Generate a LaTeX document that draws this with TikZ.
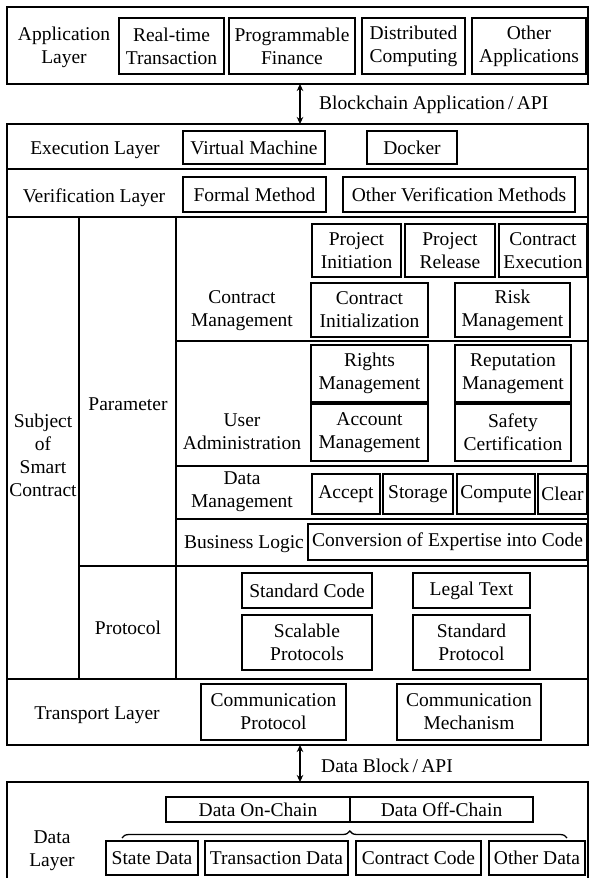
\documentclass[tikz,border=0pt]{standalone}
\usepackage{fontspec}
\setmainfont{Liberation Serif}
\newfontfamily\tnrfont{Liberation Serif}
\usetikzlibrary{arrows.meta,decorations.pathreplacing}
\tikzset{
  bx/.style={draw, line width=1.3pt, align=center, inner sep=0pt},
  frm/.style={draw, line width=1.6pt, inner sep=0pt},
  sep/.style={line width=1.3pt},
  lbl/.style={align=center, inner sep=0pt},
  dbl/.style={line width=1.3pt, {Stealth[length=7pt,width=6.5pt]}-{Stealth[length=7pt,width=6.5pt]}}
}
\newcommand\bx[6]{\node[bx, minimum width={#4-#2}, minimum height={#5-#3}] (#1) at ({(#2+#4)/2},{(#3+#5)/2}) {#6};}
\newcommand\frm[5]{\node[frm, minimum width={#4-#2}, minimum height={#5-#3}] (#1) at ({(#2+#4)/2},{(#3+#5)/2}) {};}
\begin{document}
\begin{tikzpicture}[x=1pt,y=-1pt,font=\tnrfont\fontsize{19.5}{23}\selectfont]
\useasboundingbox (0,0) rectangle (589,878);
% top frame
\frm{top}{7}{7}{588}{84}
\node[lbl] (app) at (64,47) {Application\\Layer};
\bx{rt}{119}{18}{224}{74}{Real-time\\Transaction}
\bx{pf}{229}{18}{355}{74}{Programmable\\Finance}
\bx{dc}{362}{18}{465}{74}{Distributed\\Computing}
\bx{oa}{472}{18}{586}{74}{Other\\Applications}
% arrow 1
\coordinate (a1s) at (300,84);
\coordinate (a1e) at (300,124);
\draw[dbl] (a1s) -- (a1e);
\node[lbl, anchor=west] (a1l) at (319,105) {Blockchain Application\,/\,API};
% main frame
\frm{main}{7}{124}{588}{745}
\coordinate (h1l) at (7,169);   \coordinate (h1r) at (588,169);
\coordinate (h2l) at (7,217);   \coordinate (h2r) at (588,217);
\coordinate (h3l) at (7,679);   \coordinate (h3r) at (588,679);
\coordinate (v1t) at (79,217);  \coordinate (v1b) at (79,679);
\coordinate (v2t) at (176,217); \coordinate (v2b) at (176,679);
\coordinate (h4l) at (79,566);  \coordinate (h4r) at (588,566);
\coordinate (h5l) at (176,341); \coordinate (h5r) at (588,341);
\coordinate (h6l) at (176,466); \coordinate (h6r) at (588,466);
\coordinate (h7l) at (176,519); \coordinate (h7r) at (588,519);
\draw[sep] (h1l) -- (h1r);
\draw[sep] (h2l) -- (h2r);
\draw[sep] (h3l) -- (h3r);
\draw[sep] (v1t) -- (v1b);
\draw[sep] (v2t) -- (v2b);
\draw[sep] (h4l) -- (h4r);
\draw[sep] (h5l) -- (h5r);
\draw[sep] (h6l) -- (h6r);
\draw[sep] (h7l) -- (h7r);
% execution / verification
\node[lbl] (exe) at (95,150) {Execution Layer};
\bx{vm}{183}{131}{325}{164}{Virtual Machine}
\bx{dk}{367}{131}{457}{164}{Docker}
\node[lbl] (ver) at (94,198) {Verification Layer};
\bx{fm}{183}{177}{326}{212}{Formal Method}
\bx{ovm}{343}{177}{575}{212}{Other Verification Methods}
% subject
\node[lbl] (subj) at (43,455) {Subject\\of\\Smart\\Contract};
\node[lbl] (par) at (128,404) {Parameter};
\node[lbl] (pro) at (128,628) {Protocol};
% contract management
\node[lbl] (cm) at (242,311) {Contract\\Management};
\bx{pi}{312}{224}{401}{277}{Project\\Initiation}
\bx{pr}{405}{224}{495}{277}{Project\\Release}
\bx{ce}{499}{224}{587}{277}{Contract\\Execution}
\bx{ci}{311}{283}{428}{337}{Contract\\Initialization}
\bx{rm}{455}{283}{570}{337}{Risk\\Management}
% user administration
\node[lbl] (ua) at (242,432) {User\\Administration};
\bx{rgm}{311}{345}{428}{402}{Rights\\Management}
\bx{rpm}{455}{345}{571}{402}{Reputation\\Management}
\bx{am}{311}{404}{428}{461}{Account\\Management}
\bx{sc}{455}{404}{571}{461}{Safety\\Certification}
% data management
\node[lbl] (dm) at (242,492) {Data\\Management};
\bx{acc}{312}{474}{380}{514}{Accept}
\bx{sto}{383}{474}{453}{514}{Storage}
\bx{cmp}{457}{474}{535}{514}{Compute}
\bx{clr}{538}{474}{587}{514}{Clear}
% business logic
\node[lbl] (bl) at (244,544) {Business Logic};
\bx{conv}{308}{524}{587}{560}{Conversion of Expertise into Code}
% protocol
\bx{stc}{242}{573}{372}{608}{Standard Code}
\bx{lt}{413}{573}{530}{608}{Legal Text}
\bx{spc}{242}{615}{372}{670}{Scalable\\Protocols}
\bx{stp}{413}{615}{530}{670}{Standard\\Protocol}
% transport
\node[lbl] (tl) at (97,715) {Transport Layer};
\bx{cp}{201}{684}{346}{740}{Communication\\Protocol}
\bx{cmm}{397}{684}{541}{740}{Communication\\Mechanism}
% arrow 2
\coordinate (a2s) at (300,745);
\coordinate (a2e) at (300,782);
\draw[dbl] (a2s) -- (a2e);
\node[lbl, anchor=west] (a2l) at (321,766) {Data Block\,/\,API};
% bottom frame
\frm{bot}{7}{782}{588}{886}
\node[lbl] (dl) at (52,851) {Data\\Layer};
\bx{don}{166}{797}{350}{822}{Data On-Chain}
\bx{doff}{350}{797}{533}{822}{Data Off-Chain}
\coordinate (brl) at (122,838);
\coordinate (brr) at (567,838);
\draw[line width=1.3pt, decorate, decoration={brace, amplitude=7pt, aspect=0.512}] (brl) -- (brr);
\bx{sd}{106}{841}{198}{875}{State Data}
\bx{td}{205}{841}{348}{875}{Transaction Data}
\bx{cc}{356}{841}{481}{875}{Contract Code}
\bx{od}{489}{841}{585}{875}{Other Data}
\end{tikzpicture}
\end{document}
